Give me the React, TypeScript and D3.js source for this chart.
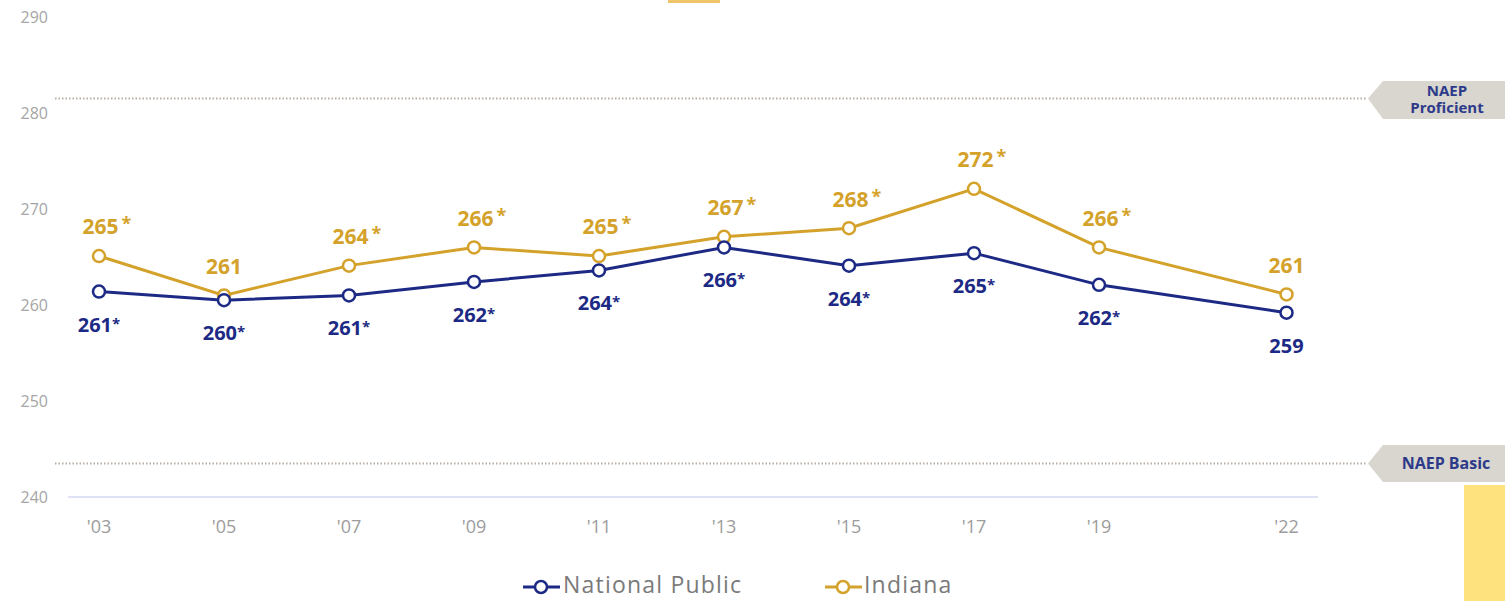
import React from "react";
import * as d3 from "d3";

const years = [2003, 2005, 2007, 2009, 2011, 2013, 2015, 2017, 2019, 2022];
const yearLabels = ["'03", "'05", "'07", "'09", "'11", "'13", "'15", "'17", "'19", "'22"];
const nationalValues = [261.4, 260.5, 261.0, 262.4, 263.6, 266.0, 264.1, 265.4, 262.1, 259.2];
const indianaValues = [265.1, 261.0, 264.1, 266.0, 265.1, 267.1, 268.0, 272.1, 266.0, 261.1];
const nationalLabels = ["261", "260", "261", "262", "264", "266", "264", "265", "262", "259"];
const nationalSig = [true, true, true, true, true, true, true, true, true, false];
const indianaLabels = ["265", "261", "264", "266", "265", "267", "268", "272", "266", "261"];
const indianaSig = [true, false, true, true, true, true, true, true, true, false];
const yTicks = [240, 250, 260, 270, 280, 290];
const proficientLevel = 281.5;
const basicLevel = 243.5;

const W = 1505;
const H = 601;
const NAT = "#1d2a85";
const IND = "#d4a22a";
const FONT = "'Open Sans', 'Noto Sans', sans-serif";

export default function App() {
  const x = d3.scaleLinear().domain([2003, 2022]).range([99, 1286.5]);
  const y = d3.scaleLinear().domain([240, 290]).range([497, 17]);
  const line = d3
    .line<number>()
    .x((_, i) => x(years[i]))
    .y((d) => y(d));

  const tag = (yy: number, top: number, bottom: number) =>
    `M1368,${yy} L1383,${top} L${W},${top} L${W},${bottom} L1383,${bottom} Z`;

  const yP = y(proficientLevel);
  const yB = y(basicLevel);

  return (
    <svg
      width={W}
      height={H}
      style={{ position: "absolute", left: 0, top: 0, display: "block", background: "#fff" }}
      fontFamily={FONT}
    >
      {/* top partial element */}
      <rect x={668} y={0} width={52} height={3} fill="#f0c469" />

      {/* y tick labels */}
      {yTicks.map((t) => (
        <text key={t} x={48} y={y(t)} dy="0.35em" textAnchor="end" fontSize={16} fill="#a5a5a5">
          {t}
        </text>
      ))}

      {/* baseline */}
      <line x1={68} x2={1318} y1={y(240)} y2={y(240)} stroke="#dfe2f5" strokeWidth={2} />

      {/* reference lines */}
      <line x1={55} x2={1366} y1={yP} y2={yP} stroke="#b8aea4" strokeWidth={2} strokeDasharray="1.5 2" />
      <line x1={55} x2={1366} y1={yB} y2={yB} stroke="#b8aea4" strokeWidth={2} strokeDasharray="1.5 2" />
      <path d={tag(yP, 81, 119)} fill="#d9d6cf" />
      <path d={tag(yB, 445, 482)} fill="#d9d6cf" />
      <text x={1447} y={96} textAnchor="middle" fontSize={15} fontWeight={700} fill="#2d3a8a">NAEP</text>
      <text x={1447} y={113} textAnchor="middle" fontSize={15} fontWeight={700} fill="#2d3a8a">Proficient</text>
      <text x={1446} y={yB} dy="0.36em" textAnchor="middle" fontSize={16} fontWeight={700} fill="#2d3a8a">NAEP Basic</text>

      {/* yellow block */}
      <rect x={1464} y={485} width={41} height={116} fill="#fde27e" />

      {/* x tick labels */}
      {years.map((yr, i) => (
        <text key={yr} x={x(yr)} y={527} dy="0.35em" textAnchor="middle" fontSize={18} fill="#9c9c9c">
          {yearLabels[i]}
        </text>
      ))}

      {/* lines */}
      <path d={line(indianaValues) || ""} fill="none" stroke={IND} strokeWidth={3} />
      <path d={line(nationalValues) || ""} fill="none" stroke={NAT} strokeWidth={3} />

      {indianaValues.map((v, i) => (
        <circle key={"i" + i} cx={x(years[i])} cy={y(v)} r={6} fill="#fff" stroke={IND} strokeWidth={2.5} />
      ))}
      {nationalValues.map((v, i) => (
        <circle key={"n" + i} cx={x(years[i])} cy={y(v)} r={6} fill="#fff" stroke={NAT} strokeWidth={2.5} />
      ))}

      {/* labels */}
      {indianaValues.map((v, i) => (
        <text
          key={"il" + i}
          x={x(years[i]) + (indianaSig[i] ? 8 : 0)}
          y={y(v) - 29}
          dy="0.35em"
          textAnchor="middle"
          fontSize={21}
          fontWeight={700}
          fill={IND}
        >
          {indianaLabels[i]}
          {indianaSig[i] ? (
            <tspan dx={3} dy={-4} fontSize={18}>*</tspan>
          ) : null}
        </text>
      ))}
      {nationalValues.map((v, i) => (
        <text
          key={"nl" + i}
          x={x(years[i])}
          y={y(v) + 33}
          dy="0.35em"
          textAnchor="middle"
          fontSize={20}
          fontWeight={700}
          fill={NAT}
        >
          {nationalLabels[i]}
          {nationalSig[i] ? (
            <tspan dy={-3} fontSize={15}>*</tspan>
          ) : null}
        </text>
      ))}

      {/* legend */}
      <g>
        <line x1={523} x2={560} y1={587} y2={587} stroke={NAT} strokeWidth={3} />
        <circle cx={541} cy={587} r={6} fill="#fff" stroke={NAT} strokeWidth={2.5} />
        <text x={563} y={593} fontSize={23} letterSpacing={1.2} fill="#7a7a7a">National Public</text>
        <line x1={825} x2={862} y1={587} y2={587} stroke={IND} strokeWidth={3} />
        <circle cx={843} cy={587} r={6} fill="#fff" stroke={IND} strokeWidth={2.5} />
        <text x={864} y={593} fontSize={23} letterSpacing={1.2} fill="#7a7a7a">Indiana</text>
      </g>
    </svg>
  );
}
